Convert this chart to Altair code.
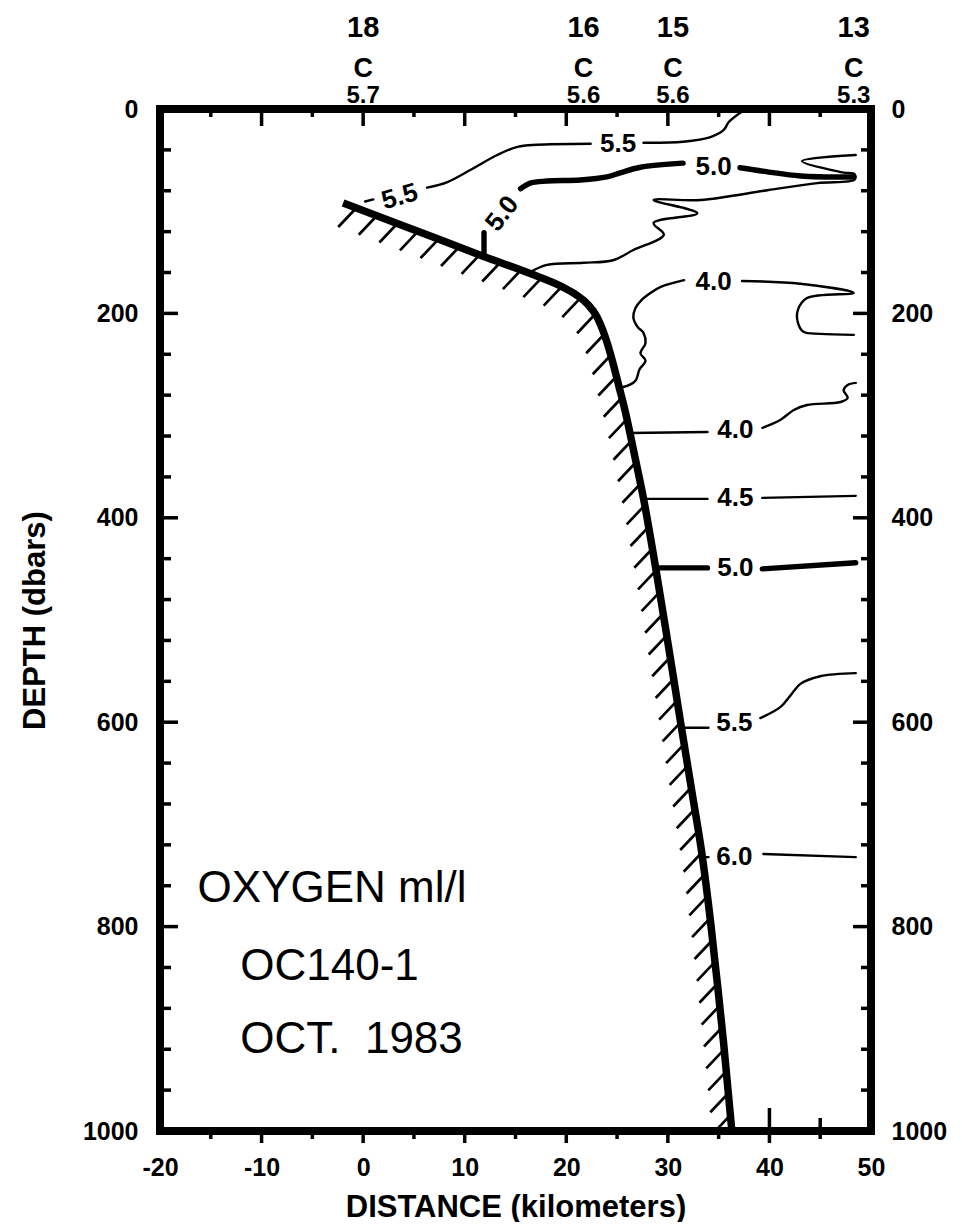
import numpy as np
import pandas as pd
import altair as alt

# ---------------- data ----------------
X_DOMAIN = [-20, 50]
Y_DOMAIN = [0, 1000]
X_LABEL_VALUES = [-20, -10, 0, 10, 20, 30, 40, 50]
Y_LABEL_VALUES = [0, 200, 400, 600, 800, 1000]
X_MAJOR_TICKS = [-10, 0, 10, 20, 30, 40]
X_MINOR_TICKS = [-15, -5, 5, 15, 25, 35, 45]
Y_MAJOR_TICKS = [200, 400, 600, 800]
Y_MINOR_TICKS = [40, 80, 120, 160, 240, 280, 320, 360, 440, 480, 520, 560,
                 640, 680, 720, 760, 840, 880, 920, 960]
BOTTOM_INNER_KM = [40, 45]

STATIONS = ["18", "16", "15", "13"]
STATION_KM = [0.0, 21.7, 30.5, 48.3]
SURFACE_O2 = ["5.7", "5.6", "5.6", "5.3"]

# sea floor (km, dbar)
FLOOR_KM = [-1.97, 3.35, 7.59, 11.8, 16.45, 19.5, 21.0, 22.1, 23.0, 23.8, 24.5,
            25.2, 25.9, 26.6, 27.6, 28.8, 30.0, 31.3, 32.4, 33.4, 34.2, 34.9,
            35.5, 36.3]
FLOOR_DEPTH = [92, 112, 128, 144, 161, 173.5, 182, 191, 203, 222, 245,
               272, 300, 333, 381, 449, 522, 603, 670, 732, 795, 858,
               915, 1000]

# oxygen contour pieces (thin lines)
C55A_KM = [0.2, 1.0]
C55A_D = [90.5, 88.5]
C55B_KM = [6.3, 8.3, 10.5, 13.2, 15.2, 17.1, 22.4]
C55B_D = [77, 71.5, 60, 45, 37, 35, 34]
C55C_KM = [27.6, 31.5, 34.2, 35.5, 36.0, 36.8, 37.6]
C55C_D = [33, 32, 27.5, 20.5, 12.7, 6, 1]
CZIG_KM = [48.5, 43.2, 47.2, 48.4, 48.4, 44.7, 39.8, 33.2, 28.6, 32.9, 28.6,
           29.6, 26.6, 24.6, 21.7, 18.1, 16.45]
CZIG_D = [45, 51, 62, 64, 69, 72.5, 79.5, 89, 89, 102, 111.5,
          123, 138, 148, 150.5, 152.5, 159.5]
C40A_KM = [25.0, 25.6, 26.8, 27.2, 27.8, 27.3, 27.8, 27.6, 27.0, 26.6, 26.8,
           27.4, 28.3, 29.3, 31.6]
C40A_D = [272, 272, 266, 255, 246, 239, 229, 219, 213, 204, 195,
          187, 180, 174, 167.5]
C40B_KM = [37.3, 43.05, 48.3, 43.7, 42.8, 42.8, 43.35, 45.0, 48.3]
C40B_D = [168.3, 171, 180, 185, 196.7, 209, 218, 220, 221]
C40C_KM = [26.3, 33.9]
C40C_D = [317, 316]
C40D_KM = [39.3, 41.1, 42.4, 43.7, 47.0, 47.7, 47.3, 47.7, 48.5]
C40D_D = [312, 304, 294.5, 289.6, 286.7, 282.8, 275, 270, 268]
C45A_KM = [27.5, 33.9]
C45A_D = [381.5, 381.5]
C45B_KM = [39.3, 48.5]
C45B_D = [380.5, 378.5]
C55D_KM = [31.3, 34.0]
C55D_D = [605.5, 605.5]
C55E_KM = [39.1, 41.1, 42.1, 43.05, 45.0, 48.5]
C55E_D = [596, 585, 573.5, 562.5, 555, 552]
C60A_KM = [33.4, 34.0]
C60A_D = [732, 732]
C60B_KM = [39.4, 48.5]
C60B_D = [729, 732]

# 5.0 contour pieces (thick lines)
C50A_KM = [11.9, 11.9]
C50A_D = [143, 121]
C50B_KM = [15.5, 16.45, 18.1, 21.4, 24.0, 25.3, 27.3, 31.5]
C50B_D = [78, 72.5, 70.5, 69.5, 66.5, 62.5, 57, 53]
C50C_KM = [37.1, 39.8, 43.05, 48.3]
C50C_D = [57.5, 61.5, 65.5, 66.5]
C50D_KM = [28.8, 33.9]
C50D_D = [449, 449]
C50E_KM = [39.3, 48.5]
C50E_D = [450, 444]

# contour labels
CLABEL_TEXT = ["5.5", "5.5", "5.0", "5.0", "4.0", "4.0", "4.5", "5.0", "5.5", "6.0"]
CLABEL_KM = [3.6, 25.1, 13.7, 34.5, 34.5, 36.65, 36.65, 36.65, 36.55, 36.55]
CLABEL_DEPTH = [86, 34, 102.5, 57, 169, 314, 381, 449, 601, 731.5]
CLABEL_ANGLE = [344, 0, 308, 0, 0, 0, 0, 0, 0, 0]

# annotation block
ANNOT_TEXT = ["OXYGEN ml/l", "OC140-1", "OCT.\u00a0\u00a01983"]
ANNOT_KM = [-16.3, -12.1, -12.1]
ANNOT_DEPTH = [776, 852, 924]

# ---------------- layout / style ----------------
W, H = 711, 1022
NUM_FONT = "Liberation Sans"
LET_FONT = "Liberation Sans"
HATCH_STEP = 22.0   # px along the floor
HATCH_START = 14.0  # px
HATCH_DX, HATCH_DY = -18.0, 19.0  # px

XS = alt.Scale(domain=X_DOMAIN, nice=False, zero=False)
YS = alt.Scale(domain=Y_DOMAIN, nice=False, zero=False, reverse=True)

# ---------------- tables ----------------
thin_pieces = [("c55a", C55A_KM, C55A_D), ("c55b", C55B_KM, C55B_D),
               ("c55c", C55C_KM, C55C_D), ("czig", CZIG_KM, CZIG_D),
               ("c40a", C40A_KM, C40A_D), ("c40b", C40B_KM, C40B_D),
               ("c40c", C40C_KM, C40C_D), ("c40d", C40D_KM, C40D_D),
               ("c45a", C45A_KM, C45A_D), ("c45b", C45B_KM, C45B_D),
               ("c55d", C55D_KM, C55D_D), ("c55e", C55E_KM, C55E_D),
               ("c60a", C60A_KM, C60A_D), ("c60b", C60B_KM, C60B_D)]
thick_pieces = [("c50a", C50A_KM, C50A_D), ("c50b", C50B_KM, C50B_D),
                ("c50c", C50C_KM, C50C_D), ("c50d", C50D_KM, C50D_D),
                ("c50e", C50E_KM, C50E_D)]


def pieces_df(pieces):
    rows = []
    for name, kms, ds in pieces:
        for i, (k, d) in enumerate(zip(kms, ds)):
            rows.append({"piece": name, "i": i, "km": k, "depth": d})
    return pd.DataFrame(rows)


thin_df = pieces_df(thin_pieces)
thick_df = pieces_df(thick_pieces)
floor_df = pd.DataFrame({"i": range(len(FLOOR_KM)), "km": FLOOR_KM, "depth": FLOOR_DEPTH})

# hatch strokes placed along the floor line
SX = W / (X_DOMAIN[1] - X_DOMAIN[0])
SY = H / (Y_DOMAIN[1] - Y_DOMAIN[0])
fpx = (np.array(FLOOR_KM) - X_DOMAIN[0]) * SX
fpy = np.array(FLOOR_DEPTH) * SY
cum = np.concatenate([[0.0], np.cumsum(np.hypot(np.diff(fpx), np.diff(fpy)))])
s = np.arange(HATCH_START, cum[-1], HATCH_STEP)
hx = np.interp(s, cum, fpx)
hy = np.interp(s, cum, fpy)
hatch_df = pd.DataFrame({
    "km": hx / SX + X_DOMAIN[0],
    "depth": hy / SY,
    "km2": (hx + HATCH_DX) / SX + X_DOMAIN[0],
    "depth2": (hy + HATCH_DY) / SY,
})

label_df = pd.DataFrame({"text": CLABEL_TEXT, "km": CLABEL_KM,
                         "depth": CLABEL_DEPTH, "angle": CLABEL_ANGLE})
annot_df = pd.DataFrame({"text": ANNOT_TEXT, "km": ANNOT_KM, "depth": ANNOT_DEPTH})
station_df = pd.DataFrame({"st": STATIONS, "km": STATION_KM, "o2": SURFACE_O2})

# ---------------- layers ----------------
hatch = alt.Chart(hatch_df).mark_rule(color="black", strokeWidth=2.7, clip=True).encode(
    x=alt.X("km:Q", scale=XS, axis=None), y=alt.Y("depth:Q", scale=YS, axis=None),
    x2="km2:Q", y2="depth2:Q")

thin = alt.Chart(thin_df).mark_line(color="black", strokeWidth=2.4,
                                    interpolate="catmull-rom",
                                    strokeCap="round", strokeJoin="round").encode(
    x=alt.X("km:Q", scale=XS, axis=None), y=alt.Y("depth:Q", scale=YS, axis=None),
    detail="piece:N", order="i:Q")

thick = alt.Chart(thick_df).mark_line(color="black", strokeWidth=5.4,
                                      interpolate="catmull-rom",
                                      strokeCap="round", strokeJoin="round").encode(
    x=alt.X("km:Q", scale=XS, axis=None), y=alt.Y("depth:Q", scale=YS, axis=None),
    detail="piece:N", order="i:Q")

floor = alt.Chart(floor_df).mark_line(color="black", strokeWidth=7.5,
                                      interpolate="monotone", strokeCap="butt").encode(
    x=alt.X("km:Q", scale=XS, axis=None), y=alt.Y("depth:Q", scale=YS, axis=None),
    order="i:Q")

clabels = alt.Chart(label_df).mark_text(font=NUM_FONT, fontSize=26, fontWeight="bold",
                                        color="black", align="center",
                                        baseline="middle").encode(
    x=alt.X("km:Q", scale=XS, axis=None), y=alt.Y("depth:Q", scale=YS, axis=None),
    text="text:N", angle=alt.Angle("angle:Q", scale=None))

annot = alt.Chart(annot_df).mark_text(font=LET_FONT, fontSize=44, color="black",
                                      align="left", baseline="alphabetic").encode(
    x=alt.X("km:Q", scale=XS, axis=None), y=alt.Y("depth:Q", scale=YS, axis=None),
    text="text:N")


def vticks(values, side, length, axis=None):
    df = pd.DataFrame({"depth": values})
    if side == "left":
        xe, x2e = alt.value(0), alt.value(length)
    else:
        xe, x2e = alt.value(W), alt.value(W - length)
    return alt.Chart(df).mark_rule(color="black", strokeWidth=3.5).encode(
        y=alt.Y("depth:Q", scale=YS, axis=axis), x=xe, x2=x2e)


def hticks(values, side, length, axis=None):
    df = pd.DataFrame({"km": values})
    if side == "top":
        ye, y2e = alt.value(0), alt.value(length)
    elif side == "bottom_out":
        ye, y2e = alt.value(H), alt.value(H + length)
    else:
        ye, y2e = alt.value(H), alt.value(H - length)
    return alt.Chart(df).mark_rule(color="black", strokeWidth=3.5).encode(
        x=alt.X("km:Q", scale=XS, axis=axis), y=ye, y2=y2e)


AXIS_NUM = dict(ticks=False, domain=False, grid=False, labelFont=NUM_FONT,
                labelFontSize=25, labelFontWeight="bold", labelColor="black",
                labelFlush=False, labelOverlap=False, labelBound=False,
                labelExpr="toString(datum.value)")

left_axis = alt.Axis(values=Y_LABEL_VALUES, orient="left", labelPadding=22,
                     title="DEPTH (dbars)", titleFont=LET_FONT, titleFontSize=31,
                     titleFontWeight="bold", titleColor="black", titleAngle=270,
                     titleX=-125, titleY=H / 2, titleAlign="center",
                     titleBaseline="middle", **AXIS_NUM)
right_axis = alt.Axis(values=Y_LABEL_VALUES, orient="right", labelPadding=20,
                      title=None, **AXIS_NUM)
bottom_axis = alt.Axis(values=X_LABEL_VALUES, orient="bottom", labelPadding=24,
                       title="DISTANCE (kilometers)", titleFont=LET_FONT,
                       titleFontSize=31, titleFontWeight="bold", titleColor="black",
                       titleX=W / 2, titleY=76, titleAlign="center",
                       titleBaseline="middle", **AXIS_NUM)

left_major = vticks(Y_MAJOR_TICKS, "left", 18, axis=left_axis)
left_minor = vticks(Y_MINOR_TICKS, "left", 11)
right_major = vticks(Y_MAJOR_TICKS, "right", 18, axis=right_axis)
right_minor = vticks(Y_MINOR_TICKS, "right", 10)
top_major = hticks(X_MAJOR_TICKS, "top", 17, axis=bottom_axis)
top_minor = hticks(X_MINOR_TICKS, "top", 8)
bot_major = hticks(X_MAJOR_TICKS, "bottom_out", 12)
bot_minor = hticks(X_MINOR_TICKS, "bottom_out", 8)
bot_inner_a = hticks(BOTTOM_INNER_KM[:1], "bottom_in", 23)
bot_inner_b = hticks(BOTTOM_INNER_KM[1:], "bottom_in", 13)

st_num = alt.Chart(station_df).mark_text(font=LET_FONT, fontSize=29, fontWeight="bold",
                                         color="black", align="center",
                                         baseline="middle").encode(
    x=alt.X("km:Q", scale=XS, axis=None), y=alt.value(-81), text="st:N")
st_c = alt.Chart(station_df).mark_text(font=LET_FONT, fontSize=27, fontWeight="bold",
                                       color="black", align="center",
                                       baseline="middle", text="C").encode(
    x=alt.X("km:Q", scale=XS, axis=None), y=alt.value(-40))
st_o2 = alt.Chart(station_df).mark_text(font=NUM_FONT, fontSize=24, fontWeight="bold",
                                        color="black", align="center",
                                        baseline="alphabetic").encode(
    x=alt.X("km:Q", scale=XS, axis=None), y=alt.value(-6), text="o2:N")

chart = alt.layer(
    left_major, right_major, top_major,
    hatch, thin, thick, floor, clabels, annot,
    left_minor, right_minor, top_minor, bot_major, bot_minor,
    bot_inner_a, bot_inner_b, st_num, st_c, st_o2,
).resolve_axis(x="independent", y="independent").properties(
    width=W, height=H,
    padding={"left": 152, "top": 101, "right": 80, "bottom": 91},
    autosize=alt.AutoSizeParams(type="none"),
    background="white",
).configure_view(stroke="black", strokeWidth=8)

chart.save("out.html", embed_options={"renderer": "svg", "actions": False})
